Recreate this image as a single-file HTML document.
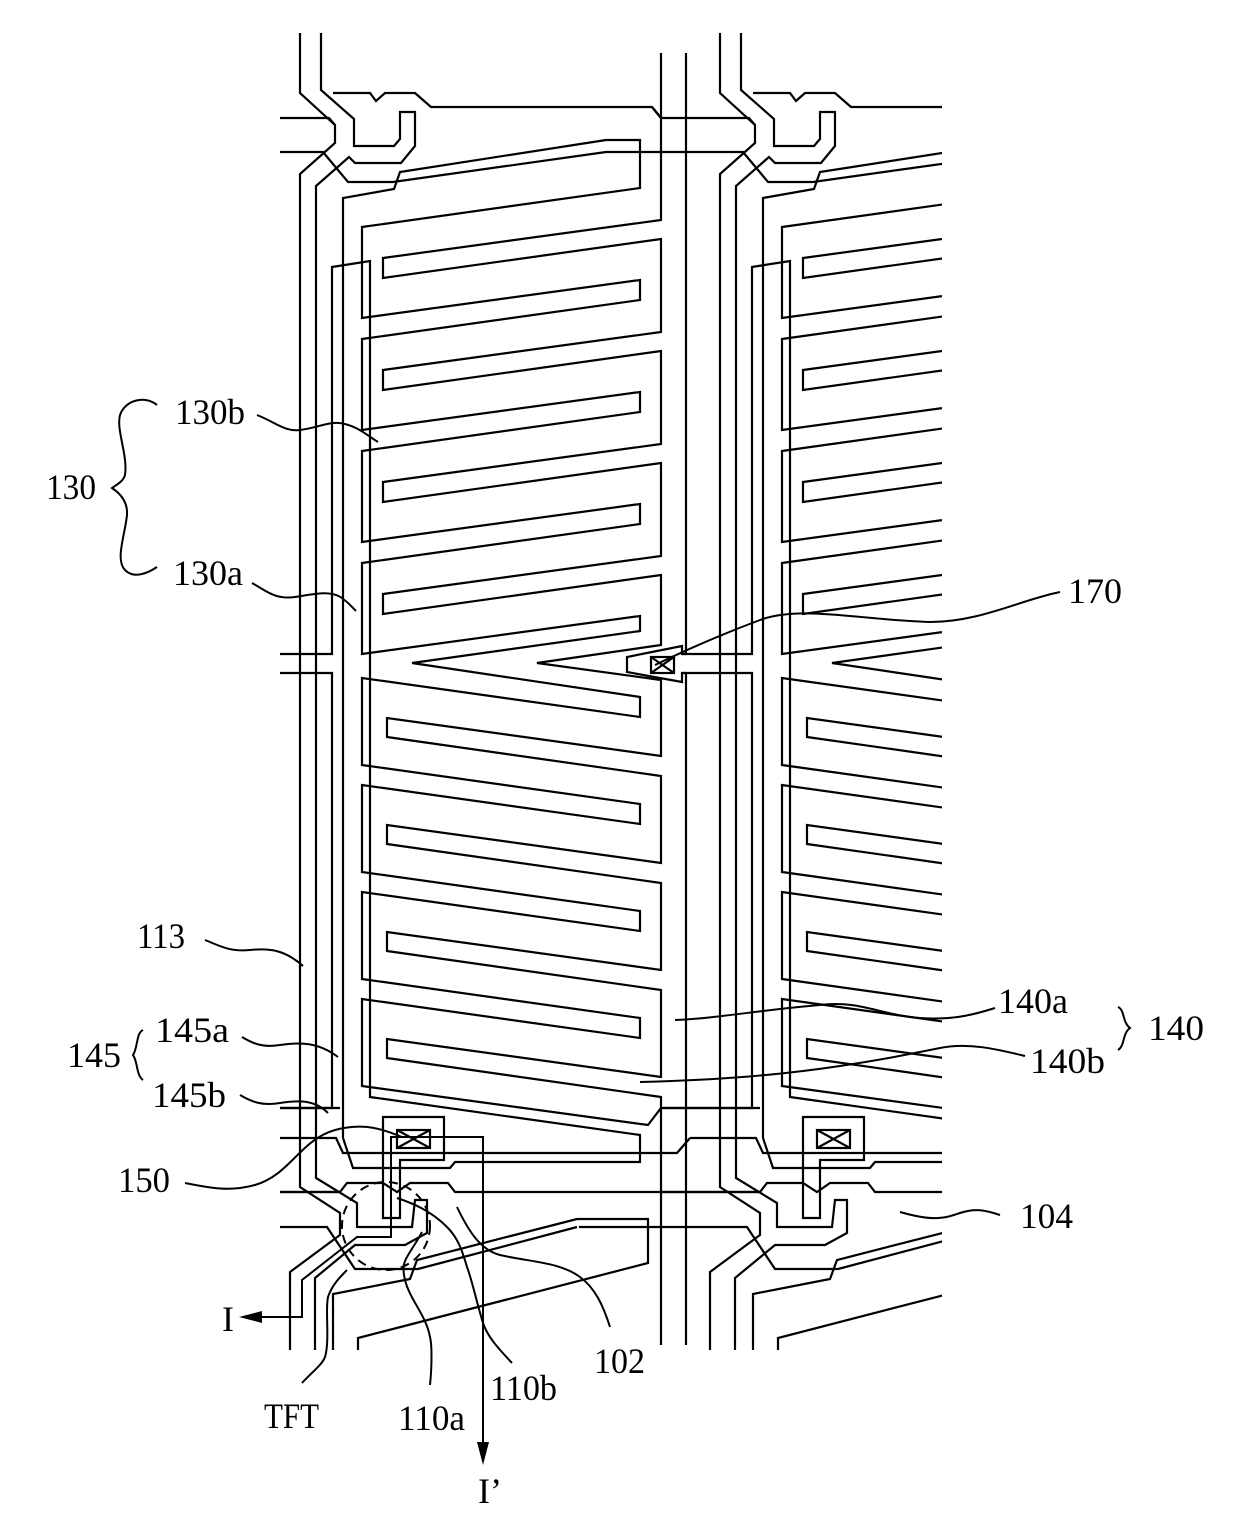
<!DOCTYPE html>
<html><head><meta charset="utf-8"><style>
html,body{margin:0;padding:0;background:#fff;}
svg{display:block;}
text{font-family:"Liberation Serif",serif;font-size:36px;fill:#000;}
</style></head><body>
<svg width="1240" height="1531" viewBox="0 0 1240 1531" xmlns="http://www.w3.org/2000/svg">
<defs>
<clipPath id="cp"><rect x="280" y="0" width="662" height="1531"/></clipPath>
<g id="u" fill="none" stroke="#000" stroke-width="2.2" stroke-linejoin="miter">
<path d="M300,33 L300,93 L335,125 L335,143 L300,174 L300,1187 L340,1213 L340,1235 L290,1272 L290,1350"/>
<path d="M321,33 L321,90 L354,119 L354,146 L394,146 L400,139 L400,112 L415,112 L415,146 L401,163 L355,163 L349,157 L316,186 L316,1178 L357,1203 L357,1227 L412,1227 L415,1200 L427,1200 L427,1233 L405,1245 L355,1245 L315,1278 L315,1350"/>
<path d="M232,107 L241,118 L329,118 L335,125"/>
<path d="M333,93 L370,93 L376,101 L385,93 L415,93 L431,107 L652,107 L661,118"/>
<path d="M186,152 L323,152 L348,182 L393,182 L606,152"/>
<path d="M343,1138 L343,198 L394,189 L400,172 L606,140 L640,140 L640,188 L362,227 L362,318 L640,280 L640,300 L362,339 L362,430 L640,392 L640,412 L362,451 L362,542 L640,504 L640,524 L362,563 L362,654 L640,616 L640,631 L412,663 L640,697 L640,717 L362,678 L362,765 L640,804 L640,824 L362,785 L362,872 L640,911 L640,931 L362,892 L362,979 L640,1018 L640,1038 L362,999 L362,1086 L648,1125 L661,1108 L760,1108"/>
<path d="M661,53 L661,220 L383,258 L383,278 L661,239 L661,332 L383,370 L383,390 L661,351 L661,444 L383,482 L383,502 L661,463 L661,556 L383,594 L383,614 L661,575 L661,645 L537,663 L661,680 L661,756 L387,718 L387,737 L661,776 L661,863 L387,825 L387,844 L661,883 L661,970 L387,932 L387,951 L661,990 L661,1077 L387,1039 L387,1058 L661,1097 L661,1345"/>
<path d="M686,53 L686,654 M686,673 L686,1345"/>
<path d="M686,654 L682,654 L682,646 L627,657 L627,672 L682,682 L682,673 L686,673"/>
<rect x="651" y="657" width="23" height="16"/>
<path d="M651,657 L674,673 M674,657 L651,673"/>
<path d="M262,654 L332,654 L332,267 L370,261 L370,1097 L640,1135 L640,1162 L455,1162 L450,1168 L353,1168 L343,1138"/>
<path d="M262,673 L332,673 L332,1108 L241,1108"/>
<path d="M270,1138 L336,1138 L343,1153 L677,1153 L690,1138"/>
<path d="M240,1192 L340,1192 L347,1183 L383,1183 L397,1192 L410,1183 L448,1183 L455,1192 L760,1192"/>
<path d="M159,1227 L327,1227 L355,1269 L418,1269 L577,1227"/>
<path d="M333,1350 L333,1294 L410,1279 L417,1260 L577,1219 L648,1219 L648,1263 L358,1338 L358,1350"/>
<path d="M383,1218 L383,1117 L444,1117 L444,1160 L400,1160 L400,1218 Z"/>
<rect x="397" y="1130" width="33" height="18"/>
<path d="M397,1130 L430,1148 M430,1130 L397,1148"/>
</g>
</defs>
<g clip-path="url(#cp)">
<use href="#u" x="-420"/>
<use href="#u" x="0"/>
<use href="#u" x="420"/>
</g>

<g fill="none" stroke="#000" stroke-width="2">
<path d="M258,1317 L302,1317 L302,1280 L357,1237 L391,1237 L391,1137 L483,1137 L483,1445"/>
<circle cx="386" cy="1226" r="44" stroke-dasharray="9,6"/>
<path d="M257,415 C275,422 285,432 300,430 C318,428 330,420 345,424 C360,428 368,436 378,442"/>
<path d="M252,583 C265,590 275,600 295,597 C315,594 330,590 342,598 C350,604 353,608 356,611"/>
<path d="M157,405 C145,395 125,400 120,415 C116,430 128,455 125,475 C123,482 116,485 112,488 C118,492 128,500 127,515 C125,535 115,560 125,570 C133,578 145,575 157,567"/>
<path d="M1060,592 C1020,600 980,622 930,622 C860,620 800,605 760,620 C720,635 690,648 655,665"/>
<path d="M205,940 C220,946 230,952 250,950 C270,948 285,950 303,966"/>
<path d="M242,1037 C252,1043 262,1048 280,1045 C300,1042 318,1042 338,1057"/>
<path d="M240,1095 C252,1102 262,1106 280,1103 C300,1100 315,1100 328,1113"/>
<path d="M143,1030 C136,1033 138,1048 133,1055 C138,1062 136,1075 143,1080"/>
<path d="M995,1008 C970,1016 950,1020 920,1018 C880,1015 860,1000 820,1005 C760,1010 720,1018 675,1020"/>
<path d="M1025,1056 C1000,1050 970,1042 940,1048 C900,1056 880,1060 840,1066 C780,1075 720,1080 640,1082"/>
<path d="M1118,1007 C1125,1010 1122,1022 1130,1028 C1122,1034 1125,1046 1118,1050"/>
<path d="M185,1183 C210,1188 230,1192 255,1185 C290,1175 300,1140 335,1130 C365,1122 385,1130 402,1137"/>
<path d="M1000,1215 C985,1210 975,1208 960,1213 C945,1218 935,1222 900,1212"/>
<path d="M610,1327 C603,1305 595,1288 580,1277 C560,1262 530,1262 500,1255 C480,1250 468,1230 457,1207"/>
<path d="M512,1363 C500,1350 488,1338 483,1323 C476,1300 472,1280 467,1267 C462,1250 458,1238 447,1227 C430,1210 412,1203 397,1198"/>
<path d="M430,1385 C432,1365 432,1345 430,1337 C426,1315 410,1300 405,1280 C402,1268 404,1262 407,1257 C412,1248 418,1240 422,1232"/>
<path d="M302,1383 C312,1372 322,1365 325,1357 C330,1340 325,1310 328,1297 C332,1285 340,1277 347,1270"/>
</g>
<path d="M239,1317 L262,1311 L262,1323 Z" fill="#000"/>
<path d="M483,1465 L477,1442 L489,1442 Z" fill="#000"/>

<text x="175" y="424" textLength="70" lengthAdjust="spacingAndGlyphs">130b</text>
<text x="46" y="499" textLength="50" lengthAdjust="spacingAndGlyphs">130</text>
<text x="173" y="585" textLength="70" lengthAdjust="spacingAndGlyphs">130a</text>
<text x="1068" y="603" textLength="54" lengthAdjust="spacingAndGlyphs">170</text>
<text x="137" y="948" textLength="48" lengthAdjust="spacingAndGlyphs">113</text>
<text x="155" y="1042" textLength="74" lengthAdjust="spacingAndGlyphs">145a</text>
<text x="67" y="1067" textLength="54" lengthAdjust="spacingAndGlyphs">145</text>
<text x="152" y="1107" textLength="74" lengthAdjust="spacingAndGlyphs">145b</text>
<text x="998" y="1013" textLength="70" lengthAdjust="spacingAndGlyphs">140a</text>
<text x="1148" y="1040" textLength="56" lengthAdjust="spacingAndGlyphs">140</text>
<text x="1030" y="1073" textLength="75" lengthAdjust="spacingAndGlyphs">140b</text>
<text x="118" y="1192" textLength="52" lengthAdjust="spacingAndGlyphs">150</text>
<text x="1020" y="1228" textLength="53" lengthAdjust="spacingAndGlyphs">104</text>
<text x="594" y="1373" textLength="51" lengthAdjust="spacingAndGlyphs">102</text>
<text x="490" y="1400" textLength="67" lengthAdjust="spacingAndGlyphs">110b</text>
<text x="398" y="1430" textLength="67" lengthAdjust="spacingAndGlyphs">110a</text>
<text x="264" y="1428" textLength="55" lengthAdjust="spacingAndGlyphs">TFT</text>
<text x="222" y="1331">I</text>
<text x="478" y="1503">I’</text>
</svg>
</body></html>
